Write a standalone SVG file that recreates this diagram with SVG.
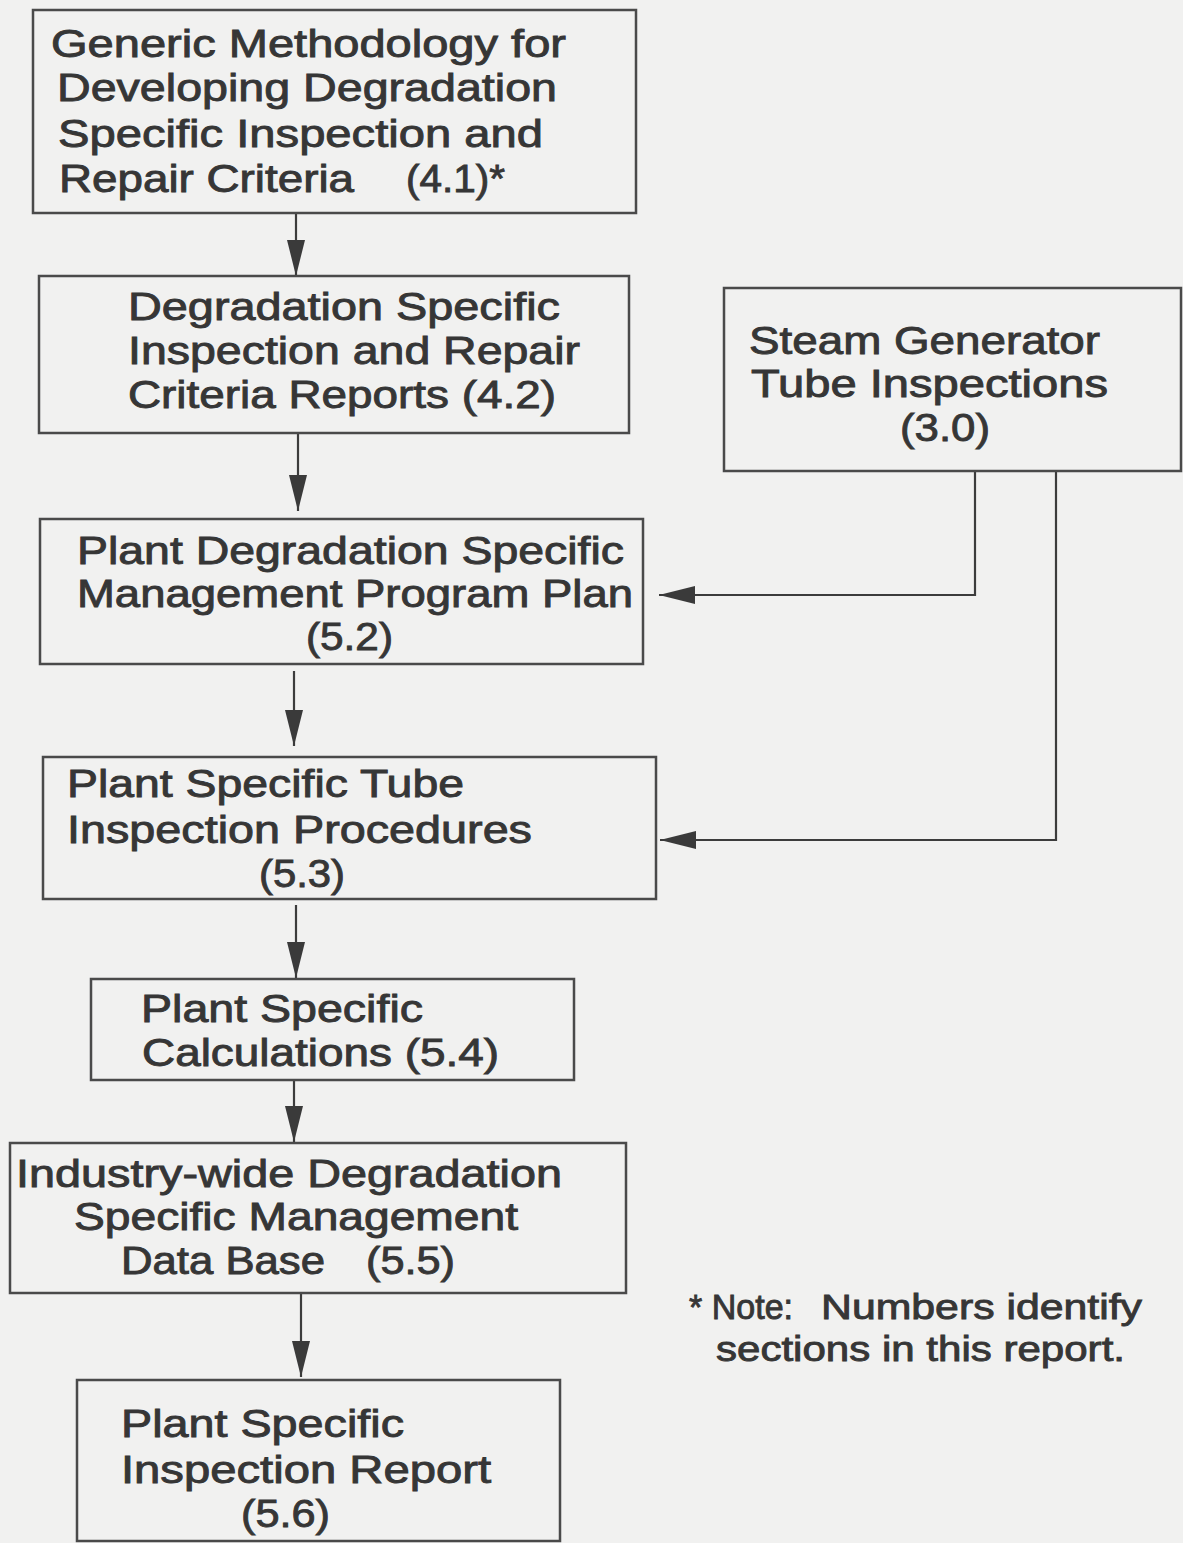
<svg xmlns="http://www.w3.org/2000/svg" width="1183" height="1543" viewBox="0 0 1183 1543">
  <defs>
    <marker id="ah" markerUnits="userSpaceOnUse" markerWidth="38" markerHeight="20" refX="36" refY="9" orient="auto">
      <path d="M0,0 L36,9 L0,18 z" fill="#3a3a3a"/>
    </marker>
  </defs>
  <style>
    .box { fill: none; stroke: #4a4a4a; stroke-width: 2.5; }
    .t { font-family: "Liberation Sans", Arial, Helvetica, sans-serif; font-size: 38.5px; fill: #363636; stroke: #363636; stroke-width: 0.9; }
    .tn { font-size: 35px; }
    .c { fill: none; stroke: #3c3c3c; stroke-width: 2.2; }
  </style>
  <rect x="0" y="0" width="1183" height="1543" fill="#f1f1f0"/>

  <g id="connectors">
    <line class="c" x1="296" y1="214" x2="296" y2="276" marker-end="url(#ah)"/>
    <line class="c" x1="298" y1="434" x2="298" y2="511" marker-end="url(#ah)"/>
    <line class="c" x1="294" y1="671" x2="294" y2="746" marker-end="url(#ah)"/>
    <line class="c" x1="296" y1="905" x2="296" y2="978" marker-end="url(#ah)"/>
    <line class="c" x1="294" y1="1081" x2="294" y2="1142" marker-end="url(#ah)"/>
    <line class="c" x1="301" y1="1294" x2="301" y2="1377" marker-end="url(#ah)"/>
    <polyline class="c" points="975,471 975,595 659,595" marker-end="url(#ah)"/>
    <polyline class="c" points="1056,471 1056,840 660,840" marker-end="url(#ah)"/>
  </g>

  <g id="n41">
    <rect class="box" x="33" y="10" width="603" height="203"/>
    <text class="t" x="51" y="57" textLength="515" lengthAdjust="spacingAndGlyphs">Generic Methodology for</text>
    <text class="t" x="57" y="101" textLength="500" lengthAdjust="spacingAndGlyphs">Developing Degradation</text>
    <text class="t" x="58" y="147" textLength="485" lengthAdjust="spacingAndGlyphs">Specific Inspection and</text>
    <text class="t" x="59" y="192" textLength="295" lengthAdjust="spacingAndGlyphs">Repair Criteria</text>
    <text class="t" x="406" y="192" textLength="99" lengthAdjust="spacingAndGlyphs">(4.1)*</text>
  </g>

  <g id="n42">
    <rect class="box" x="39" y="276" width="590" height="157"/>
    <text class="t" x="128" y="320" textLength="432" lengthAdjust="spacingAndGlyphs">Degradation Specific</text>
    <text class="t" x="128" y="364" textLength="452" lengthAdjust="spacingAndGlyphs">Inspection and Repair</text>
    <text class="t" x="128" y="408" textLength="428" lengthAdjust="spacingAndGlyphs">Criteria Reports (4.2)</text>
  </g>

  <g id="n30">
    <rect class="box" x="724" y="288" width="457" height="183"/>
    <text class="t" x="749" y="354" textLength="351" lengthAdjust="spacingAndGlyphs">Steam Generator</text>
    <text class="t" x="751" y="397" textLength="357" lengthAdjust="spacingAndGlyphs">Tube Inspections</text>
    <text class="t" x="900" y="441" textLength="90" lengthAdjust="spacingAndGlyphs">(3.0)</text>
  </g>

  <g id="n52">
    <rect class="box" x="40" y="519" width="603" height="145"/>
    <text class="t" x="77" y="564" textLength="547" lengthAdjust="spacingAndGlyphs">Plant Degradation Specific</text>
    <text class="t" x="77" y="607" textLength="556" lengthAdjust="spacingAndGlyphs">Management Program Plan</text>
    <text class="t" x="306" y="650" textLength="87" lengthAdjust="spacingAndGlyphs">(5.2)</text>
  </g>

  <g id="n53">
    <rect class="box" x="43" y="757" width="613" height="142"/>
    <text class="t" x="67" y="797" textLength="397" lengthAdjust="spacingAndGlyphs">Plant Specific Tube</text>
    <text class="t" x="67" y="843" textLength="465" lengthAdjust="spacingAndGlyphs">Inspection Procedures</text>
    <text class="t" x="259" y="887" textLength="86" lengthAdjust="spacingAndGlyphs">(5.3)</text>
  </g>

  <g id="n54">
    <rect class="box" x="91" y="979" width="483" height="101"/>
    <text class="t" x="141" y="1022" textLength="282" lengthAdjust="spacingAndGlyphs">Plant Specific</text>
    <text class="t" x="142" y="1066" textLength="357" lengthAdjust="spacingAndGlyphs">Calculations (5.4)</text>
  </g>

  <g id="n55">
    <rect class="box" x="10" y="1143" width="616" height="150"/>
    <text class="t" x="16" y="1187" textLength="546" lengthAdjust="spacingAndGlyphs">Industry-wide Degradation</text>
    <text class="t" x="74" y="1230" textLength="444" lengthAdjust="spacingAndGlyphs">Specific Management</text>
    <text class="t" x="121" y="1274" textLength="204" lengthAdjust="spacingAndGlyphs">Data Base</text>
    <text class="t" x="366" y="1274" textLength="89" lengthAdjust="spacingAndGlyphs">(5.5)</text>
  </g>

  <g id="n56">
    <rect class="box" x="77" y="1380" width="483" height="161"/>
    <text class="t" x="121" y="1437" textLength="283" lengthAdjust="spacingAndGlyphs">Plant Specific</text>
    <text class="t" x="121" y="1483" textLength="370" lengthAdjust="spacingAndGlyphs">Inspection Report</text>
    <text class="t" x="241" y="1527" textLength="89" lengthAdjust="spacingAndGlyphs">(5.6)</text>
  </g>

  <g id="note">
    <text class="t tn" x="689" y="1319" textLength="104" lengthAdjust="spacingAndGlyphs">* Note:</text>
    <text class="t tn" x="821" y="1319" textLength="321" lengthAdjust="spacingAndGlyphs">Numbers identify</text>
    <text class="t tn" x="716" y="1361" textLength="409" lengthAdjust="spacingAndGlyphs">sections in this report.</text>
  </g>
</svg>
